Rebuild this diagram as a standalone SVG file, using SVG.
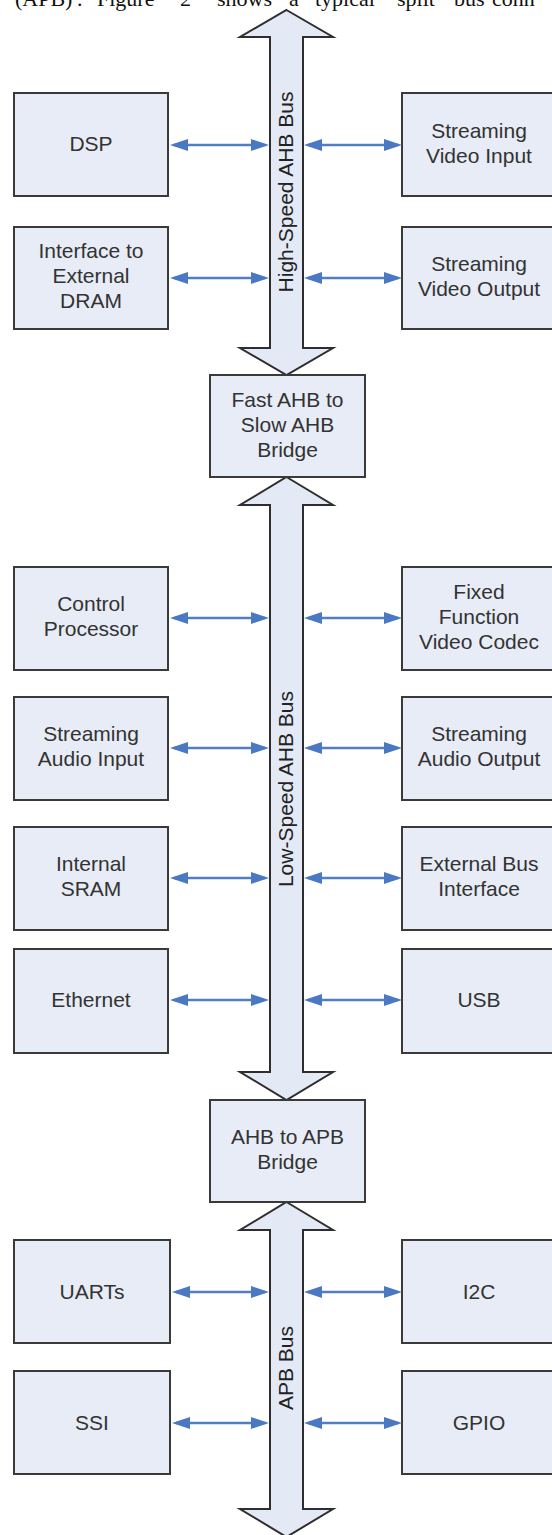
<svg xmlns="http://www.w3.org/2000/svg" width="552" height="1535" viewBox="0 0 552 1535">
  <defs>
    <!-- blue arrowhead used at both ends of every link -->
    <marker id="head" viewBox="0 0 18 12" markerWidth="18" markerHeight="12" refX="14" refY="6" orient="auto-start-reverse" markerUnits="userSpaceOnUse">
      <path d="M0,0 L18,6 L0,12 Z" fill="#4a78c2"/>
    </marker>
  </defs>
  <style>
    .box { fill: #e7ecf6; stroke: #3a3a3a; stroke-width: 2; }
    .bus { fill: #e3e9f5; stroke: #2e2e2e; stroke-width: 2; stroke-linejoin: miter; }
    .lbl { font-family: "Liberation Sans", Arial, sans-serif; font-size: 21px; fill: #333333; text-anchor: middle; }
    .buslbl { font-family: "Liberation Sans", Arial, sans-serif; font-size: 21px; fill: #222222; text-anchor: middle; }
    .link { stroke: #4f7ec4; stroke-width: 2.5; fill: none; marker-start: url(#head); marker-end: url(#head); }
    .para { font-family: "Liberation Serif", "Times New Roman", serif; font-size: 22px; fill: #111111; }
  </style>

  <rect width="552" height="1535" fill="#ffffff"/>

  <!-- running text line above the figure -->
  <text class="para" y="6"><tspan x="15">(APB)</tspan><tspan x="77">.</tspan><tspan x="97">Figure</tspan><tspan x="180">2</tspan><tspan x="217">shows</tspan><tspan x="289">a</tspan><tspan x="315">typical</tspan><tspan x="397">split</tspan><tspan x="454">bus</tspan><tspan x="492">conn</tspan></text>

  <!-- bus arrows -->
  <g id="high-speed-ahb-bus">
    <polygon class="bus" points="286.5,10 333,37 303,37 303,348 333,348 286.5,375 240,348 270,348 270,37 240,37"/>
    <text class="buslbl" transform="translate(293,192) rotate(-90)">High-Speed AHB Bus</text>
  </g>
  <g id="low-speed-ahb-bus">
    <polygon class="bus" points="286.5,477 333,505 303,505 303,1072 333,1072 286.5,1100 240,1072 270,1072 270,505 240,505"/>
    <text class="buslbl" transform="translate(293,789) rotate(-90)">Low-Speed AHB Bus</text>
  </g>
  <g id="apb-bus">
    <polygon class="bus" points="286.5,1202 333,1230 303,1230 303,1509 333,1509 286.5,1537 240,1509 270,1509 270,1230 240,1230"/>
    <text class="buslbl" transform="translate(293,1368) rotate(-90)">APB Bus</text>
  </g>

  <!-- bridges -->
  <g id="fast-to-slow-bridge">
    <rect class="box" x="210" y="375" width="155" height="102"/>
    <text class="lbl" x="287.5" y="407">Fast AHB to</text>
    <text class="lbl" x="287.5" y="432">Slow AHB</text>
    <text class="lbl" x="287.5" y="457">Bridge</text>
  </g>
  <g id="ahb-to-apb-bridge">
    <rect class="box" x="210" y="1100" width="155" height="102"/>
    <text class="lbl" x="287.5" y="1144">AHB to APB</text>
    <text class="lbl" x="287.5" y="1169">Bridge</text>
  </g>

  <!-- high-speed bus peripherals -->
  <g id="dsp">
    <rect class="box" x="14" y="93" width="154" height="103"/>
    <text class="lbl" x="91" y="151">DSP</text>
  </g>
  <g id="streaming-video-input">
    <rect class="box" x="402" y="93" width="160" height="103"/>
    <text class="lbl" x="479" y="138">Streaming</text>
    <text class="lbl" x="479" y="163">Video Input</text>
  </g>
  <g id="external-dram-interface">
    <rect class="box" x="14" y="227" width="154" height="102"/>
    <text class="lbl" x="91" y="258">Interface to</text>
    <text class="lbl" x="91" y="283">External</text>
    <text class="lbl" x="91" y="308">DRAM</text>
  </g>
  <g id="streaming-video-output">
    <rect class="box" x="402" y="227" width="160" height="102"/>
    <text class="lbl" x="479" y="271">Streaming</text>
    <text class="lbl" x="479" y="296">Video Output</text>
  </g>

  <!-- low-speed bus peripherals -->
  <g id="control-processor">
    <rect class="box" x="14" y="567" width="154" height="103"/>
    <text class="lbl" x="91" y="611">Control</text>
    <text class="lbl" x="91" y="636">Processor</text>
  </g>
  <g id="video-codec">
    <rect class="box" x="402" y="567" width="160" height="103"/>
    <text class="lbl" x="479" y="599">Fixed</text>
    <text class="lbl" x="479" y="624">Function</text>
    <text class="lbl" x="479" y="649">Video Codec</text>
  </g>
  <g id="streaming-audio-input">
    <rect class="box" x="14" y="697" width="154" height="103"/>
    <text class="lbl" x="91" y="741">Streaming</text>
    <text class="lbl" x="91" y="766">Audio Input</text>
  </g>
  <g id="streaming-audio-output">
    <rect class="box" x="402" y="697" width="160" height="103"/>
    <text class="lbl" x="479" y="741">Streaming</text>
    <text class="lbl" x="479" y="766">Audio Output</text>
  </g>
  <g id="internal-sram">
    <rect class="box" x="14" y="827" width="154" height="103"/>
    <text class="lbl" x="91" y="871">Internal</text>
    <text class="lbl" x="91" y="896">SRAM</text>
  </g>
  <g id="external-bus-interface">
    <rect class="box" x="402" y="827" width="160" height="103"/>
    <text class="lbl" x="479" y="871">External Bus</text>
    <text class="lbl" x="479" y="896">Interface</text>
  </g>
  <g id="ethernet">
    <rect class="box" x="14" y="949" width="154" height="104"/>
    <text class="lbl" x="91" y="1007">Ethernet</text>
  </g>
  <g id="usb">
    <rect class="box" x="402" y="949" width="160" height="104"/>
    <text class="lbl" x="479" y="1007">USB</text>
  </g>

  <!-- APB peripherals -->
  <g id="uarts">
    <rect class="box" x="14" y="1240" width="156" height="103"/>
    <text class="lbl" x="92" y="1299">UARTs</text>
  </g>
  <g id="i2c">
    <rect class="box" x="402" y="1240" width="160" height="103"/>
    <text class="lbl" x="479" y="1299">I2C</text>
  </g>
  <g id="ssi">
    <rect class="box" x="14" y="1371" width="156" height="103"/>
    <text class="lbl" x="92" y="1430">SSI</text>
  </g>
  <g id="gpio">
    <rect class="box" x="402" y="1371" width="160" height="103"/>
    <text class="lbl" x="479" y="1430">GPIO</text>
  </g>

  <!-- links between peripherals and buses -->
  <g id="connectors">
    <line class="link" x1="174" y1="145" x2="265" y2="145"/>
    <line class="link" x1="308" y1="145" x2="398" y2="145"/>
    <line class="link" x1="174" y1="278" x2="265" y2="278"/>
    <line class="link" x1="308" y1="278" x2="398" y2="278"/>

    <line class="link" x1="174" y1="618" x2="265" y2="618"/>
    <line class="link" x1="308" y1="618" x2="398" y2="618"/>
    <line class="link" x1="174" y1="748" x2="265" y2="748"/>
    <line class="link" x1="308" y1="748" x2="398" y2="748"/>
    <line class="link" x1="174" y1="878" x2="265" y2="878"/>
    <line class="link" x1="308" y1="878" x2="398" y2="878"/>
    <line class="link" x1="174" y1="1000" x2="265" y2="1000"/>
    <line class="link" x1="308" y1="1000" x2="398" y2="1000"/>

    <line class="link" x1="176" y1="1292" x2="265" y2="1292"/>
    <line class="link" x1="308" y1="1292" x2="398" y2="1292"/>
    <line class="link" x1="176" y1="1423" x2="265" y2="1423"/>
    <line class="link" x1="308" y1="1423" x2="398" y2="1423"/>
  </g>
</svg>
